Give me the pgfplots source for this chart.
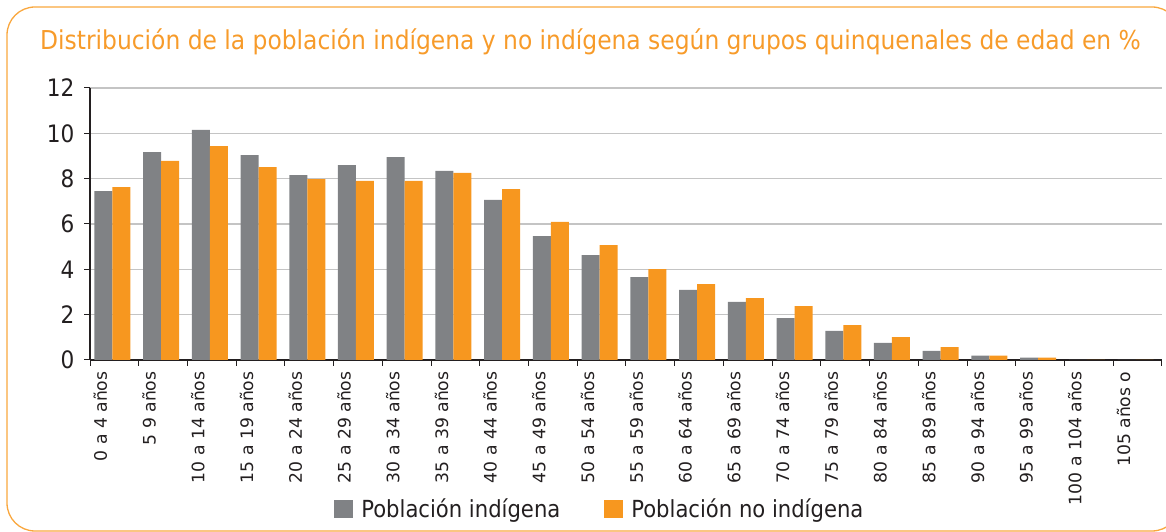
\documentclass[border=0pt]{standalone}
\usepackage{pgfplots}
\pgfplotsset{compat=1.18}
\usepackage{fontspec}
\setmainfont{DejaVu Sans Condensed}
\newfontfamily\wideface{DejaVu Sans}
\definecolor{barGray}{HTML}{808285}
\definecolor{barOrange}{HTML}{F7971F}
\definecolor{titleOrange}{HTML}{F79B2A}
\definecolor{frameOrange}{HTML}{F9A73E}
\definecolor{gridGray}{HTML}{C4C4C4}
\definecolor{inkDark}{HTML}{231F20}

\pgfplotstableread{
idx ind noind
0  7.45 7.63
1  9.17 8.78
2  10.15 9.44
3  9.04 8.51
4  8.16 7.98
5  8.60 7.90
6  8.95 7.90
7  8.34 8.25
8  7.06 7.54
9  5.47 6.09
10 4.63 5.07
11 3.66 4.01
12 3.09 3.35
13 2.56 2.73
14 1.85 2.38
15 1.28 1.54
16 0.75 1.01
17 0.40 0.57
18 0.19 0.19
19 0.10 0.10
20 0 0
21 0 0
}\agedata

\begin{document}
\begin{tikzpicture}[x=1pt,y=1pt]
\useasboundingbox (0,0) rectangle (1166,532);
\draw[frameOrange, line width=1.3pt, rounded corners=28pt] (7,1) rectangle (1180,525);
\node[anchor=base west, inner sep=0pt, text=titleOrange,
  font=\fontsize{26}{26}\selectfont] at (40,482)
  {Distribución de la población indígena y no indígena según grupos quinquenales de edad en \%};

\begin{axis}[
  at={(90pt,172pt)}, anchor=south west,
  scale only axis, width=1072pt, height=272pt,
  xmin=-0.5, xmax=21.5, ymin=0, ymax=12,
  ytick={0,2,...,12},
  xtick={0,...,21},
  xticklabels={0 a 4 años,5 9 años,10 a 14 años,15 a 19 años,20 a 24 años,
    25 a 29 años,30 a 34 años,35 a 39 años,40 a 44 años,45 a 49 años,
    50 a 54 años,55 a 59 años,60 a 64 años,65 a 69 años,70 a 74 años,
    75 a 79 años,80 a 84 años,85 a 89 años,90 a 94 años,95 a 99 años,
    100 a 104 años,105 años o},
  minor xtick={-0.5,0.5,...,21.5},
  major x tick style={draw=none},
  tick align=outside,
  major tick length=6pt, minor tick length=6pt,
  tick style={inkDark, line width=1pt},
  axis x line*=bottom, axis y line*=left,
  axis line style={inkDark, line width=1.2pt, -},
  ymajorgrids, grid style={gridGray, line width=1.4pt},
  /pgf/number format/assume math mode=true,
  yticklabel style={font=\fontsize{24}{24}\selectfont, text=inkDark, xshift=-6pt},
  xticklabel style={font=\wideface\fontsize{17.2}{17.2}\selectfont, text=inkDark,
    xshift=-14pt, yshift=-2pt, rotate=90, anchor=east},
  ybar, bar width=18pt,
  legend columns=2,
  legend style={at={(0.4757,-0.548)}, anchor=center, draw=none, fill=none,
    font=\fontsize{23.5}{23.5}\selectfont, text=inkDark,
    /tikz/every odd column/.append style={column sep=6pt},
    /tikz/every even column/.append style={column sep=42pt}},
  legend image code/.code={\fill[#1] (0pt,-9pt) rectangle (19pt,9pt);},
]
\addplot[fill=barGray, draw=none, bar shift=-11pt] table[x=idx,y=ind] {\agedata};
\addlegendentry{Población indígena}
\addplot[fill=barOrange, draw=none, bar shift=7pt] table[x=idx,y=noind] {\agedata};
\addlegendentry{Población no indígena}
\end{axis}
\end{tikzpicture}
\end{document}
